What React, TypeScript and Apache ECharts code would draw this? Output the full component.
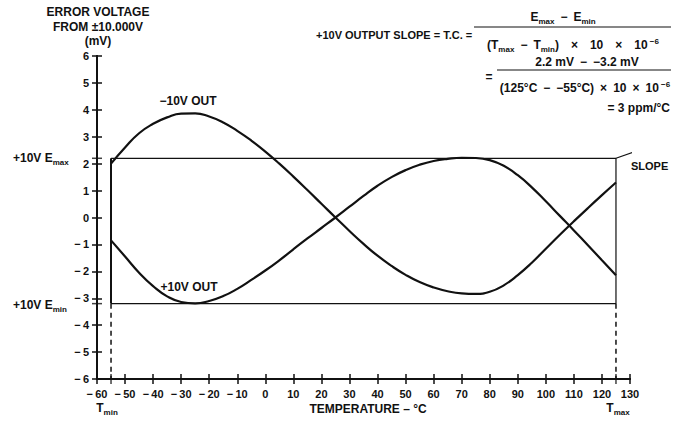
import React, { useEffect, useRef } from "react";
import * as echarts from "echarts";

// ---- data ----
const temps = [-55, -50, -45, -40, -35, -30, -25, -20, -15, -10, -5, 0, 5, 10, 15, 20, 25, 30, 35, 40, 45, 50, 55, 60, 65, 70, 75, 80, 85, 90, 95, 100, 105, 110, 115, 120, 125];
const minus10Out = [2.0, 2.6, 3.13, 3.48, 3.72, 3.86, 3.87, 3.75, 3.53, 3.22, 2.86, 2.45, 2.0, 1.52, 1.02, 0.51, 0.0, -0.5, -0.98, -1.42, -1.8, -2.13, -2.4, -2.6, -2.74, -2.82, -2.84, -2.76, -2.52, -2.14, -1.68, -1.16, -0.64, -0.14, 0.35, 0.83, 1.3];
const plus10Out = [-0.85, -1.45, -2.05, -2.55, -2.93, -3.14, -3.19, -3.1, -2.92, -2.65, -2.32, -1.97, -1.59, -1.18, -0.78, -0.39, 0.0, 0.4, 0.8, 1.18, 1.5, 1.76, 1.96, 2.1, 2.18, 2.22, 2.21, 2.13, 1.92, 1.57, 1.12, 0.6, 0.06, -0.48, -1.03, -1.59, -2.15];

const tMin = -55;
const tMax = 125;
const eMax = 2.2;
const eMin = -3.2;

const xMin = -60;
const xMax = 130;
const xInterval = 10;
const yMin = -6;
const yMax = 6;
const yInterval = 1;

// slope annotation at right (data units)
const slopeSolid = [[125, 2.2], [137.7, 2.67]];
const slopeDashed = [[137.7, 2.67], [141, 2.79]];
const slopeTriangle = [[134.2, 2.54], [137.7, 2.54], [137.7, 2.67]];

const FONT = "'Liberation Sans', Arial, Helvetica, sans-serif";

const minusFmt = (v: number) => (v < 0 ? "\u2212\u2009" + Math.abs(v) : String(v));

export default function App() {
  const ref = useRef<HTMLDivElement>(null);

  useEffect(() => {
    document.body.style.margin = "0";
    if (!ref.current) return;
    const chart = echarts.init(ref.current, undefined, { renderer: "svg" });

    const black = "#111";
    const axisCommon = {
      type: "value" as const,
      axisLine: { show: true, onZero: false, lineStyle: { color: black, width: 2 } },
      splitLine: { show: false },
    };

    const mk = (size: number) => {
      const subSize = Math.round(size * 0.66);
      return {
        b: { fontSize: size, fontWeight: "bold", fontFamily: FONT, fill: black, lineHeight: size + 4 },
        sub: { fontSize: subSize, fontWeight: "bold", fontFamily: FONT, fill: black, verticalAlign: "bottom", lineHeight: size + 4 },
        sup: { fontSize: subSize, fontWeight: "bold", fontFamily: FONT, fill: black, verticalAlign: "top", lineHeight: size + 4 },
      };
    };

    const txt = (x: number, y: number, text: string, align = "left", size = 12) => ({
      type: "text",
      x,
      y,
      style: {
        text,
        fontSize: size,
        fontWeight: "bold",
        fontFamily: FONT,
        fill: black,
        align,
        verticalAlign: "middle",
        rich: mk(size),
      },
    });

    const hline = (x1: number, x2: number, y: number) => ({
      type: "line",
      shape: { x1, y1: y, x2, y2: y },
      style: { stroke: black, lineWidth: 1.2 },
    });

    const lineSeries = (data: number[][], width = 2, type: any = "solid", smooth: any = false) => ({
      type: "line",
      data,
      smooth,
      symbol: "none",
      clip: false,
      silent: true,
      lineStyle: { color: black, width, type },
    });

    const S = "\u2002"; // en space for wide spacing

    chart.setOption({
      animation: false,
      backgroundColor: "#fff",
      grid: { left: 97, right: 51, top: 56, bottom: 43 },
      xAxis: [
        {
          ...axisCommon,
          min: xMin,
          max: xMax,
          interval: xInterval,
          position: "bottom",
          axisTick: { show: true, length: 5, lineStyle: { color: black, width: 1.5 } },
          axisLabel: { formatter: minusFmt, color: black, fontWeight: "bold", fontSize: 11, fontFamily: FONT, margin: 9 },
        },
        {
          ...axisCommon,
          min: xMin,
          max: xMax,
          interval: xInterval,
          position: "bottom",
          axisTick: { show: true, inside: true, length: 5, lineStyle: { color: black, width: 1.5 } },
          axisLabel: { show: false },
        },
      ],
      yAxis: [
        {
          ...axisCommon,
          min: yMin,
          max: yMax,
          interval: yInterval,
          position: "left",
          axisTick: { show: true, length: 5, lineStyle: { color: black, width: 1.5 } },
          axisLabel: { formatter: minusFmt, color: black, fontWeight: "bold", fontSize: 11, fontFamily: FONT, margin: 8 },
        },
        {
          ...axisCommon,
          min: yMin,
          max: yMax,
          interval: yInterval,
          position: "left",
          axisTick: { show: true, inside: true, length: 5, lineStyle: { color: black, width: 1.5 } },
          axisLabel: { show: false },
        },
      ],
      series: [
        lineSeries(temps.map((t, i) => [t, minus10Out[i]]), 2.2, "solid", 0.5),
        lineSeries(temps.map((t, i) => [t, plus10Out[i]]), 2.2, "solid", 0.5),
        lineSeries([[tMin, eMax], [tMax, eMax], [tMax, eMin], [tMin, eMin]], 1.2),
        lineSeries([[tMin, eMin], [tMin, eMax]], 2),
        lineSeries([[tMin, eMin], [tMin, yMin]], 1.5, [5, 4]),
        lineSeries([[tMax, eMin], [tMax, yMin]], 1.5, [5, 4]),
        lineSeries(slopeSolid, 1.2),
        lineSeries(slopeDashed, 1.2, [3, 2]),
        lineSeries(slopeTriangle, 1.2),
        {
          type: "scatter",
          data: [[xMin, eMax], [xMin, eMin]],
          symbol: "rect",
          symbolSize: [10, 1.5],
          clip: false,
          silent: true,
          itemStyle: { color: black },
        },
        {
          type: "scatter",
          data: [[tMin, yMin], [tMax, yMin]],
          symbol: "rect",
          symbolSize: [1.5, 10],
          clip: false,
          silent: true,
          itemStyle: { color: black },
        },
      ],
      graphic: [
        txt(98, 12, "ERROR VOLTAGE", "center", 12),
        txt(98, 27, "FROM \u00b110.000V", "center", 12),
        txt(98, 41, "(mV)", "center", 12),
        txt(188, 101, "\u221210V OUT", "center", 12),
        txt(189, 287, "+10V OUT", "center", 12),
        txt(13, 158, "{b|+10V E}{sub|max}", "left", 12),
        txt(13, 305, "{b|+10V E}{sub|min}", "left", 12),
        txt(631, 166, "SLOPE", "left", 11),
        txt(107, 408, "{b|T}{sub|min}", "center", 12),
        txt(618, 408, "{b|T}{sub|max}", "center", 12),
        txt(368, 409, "TEMPERATURE \u2013 \u00b0C", "center", 12),
        txt(316, 35, "+10V OUTPUT SLOPE = T.C. =", "left", 11),
        txt(563, 17, `{b|E}{sub|max}{b|${S}\u2212${S}E}{sub|min}`, "center", 12),
        hline(474, 671, 27),
        txt(573, 45, `{b|(T}{sub|max}{b|${S}\u2212${S}T}{sub|min}{b|)${S}${S}\u00d7${S}${S}10${S}${S}\u00d7${S}${S}10}{sup| \u22126}`, "center", 12),
        txt(489, 77, "=", "center", 12),
        txt(587, 62, `2.2 mV${S}\u2212${S}\u22123.2 mV`, "center", 12),
        hline(497, 671, 70),
        txt(585, 88, `{b|(125\u00b0C${S}\u2212${S}\u221255\u00b0C)${S}\u00d7${S}10${S}\u00d7${S}10}{sup| \u22126}`, "center", 12),
        txt(670, 108, "= 3 ppm/\u00b0C", "right", 12),
      ],
    } as any);

    return () => chart.dispose();
  }, []);

  return <div ref={ref} style={{ width: 681, height: 422 }} />;
}
